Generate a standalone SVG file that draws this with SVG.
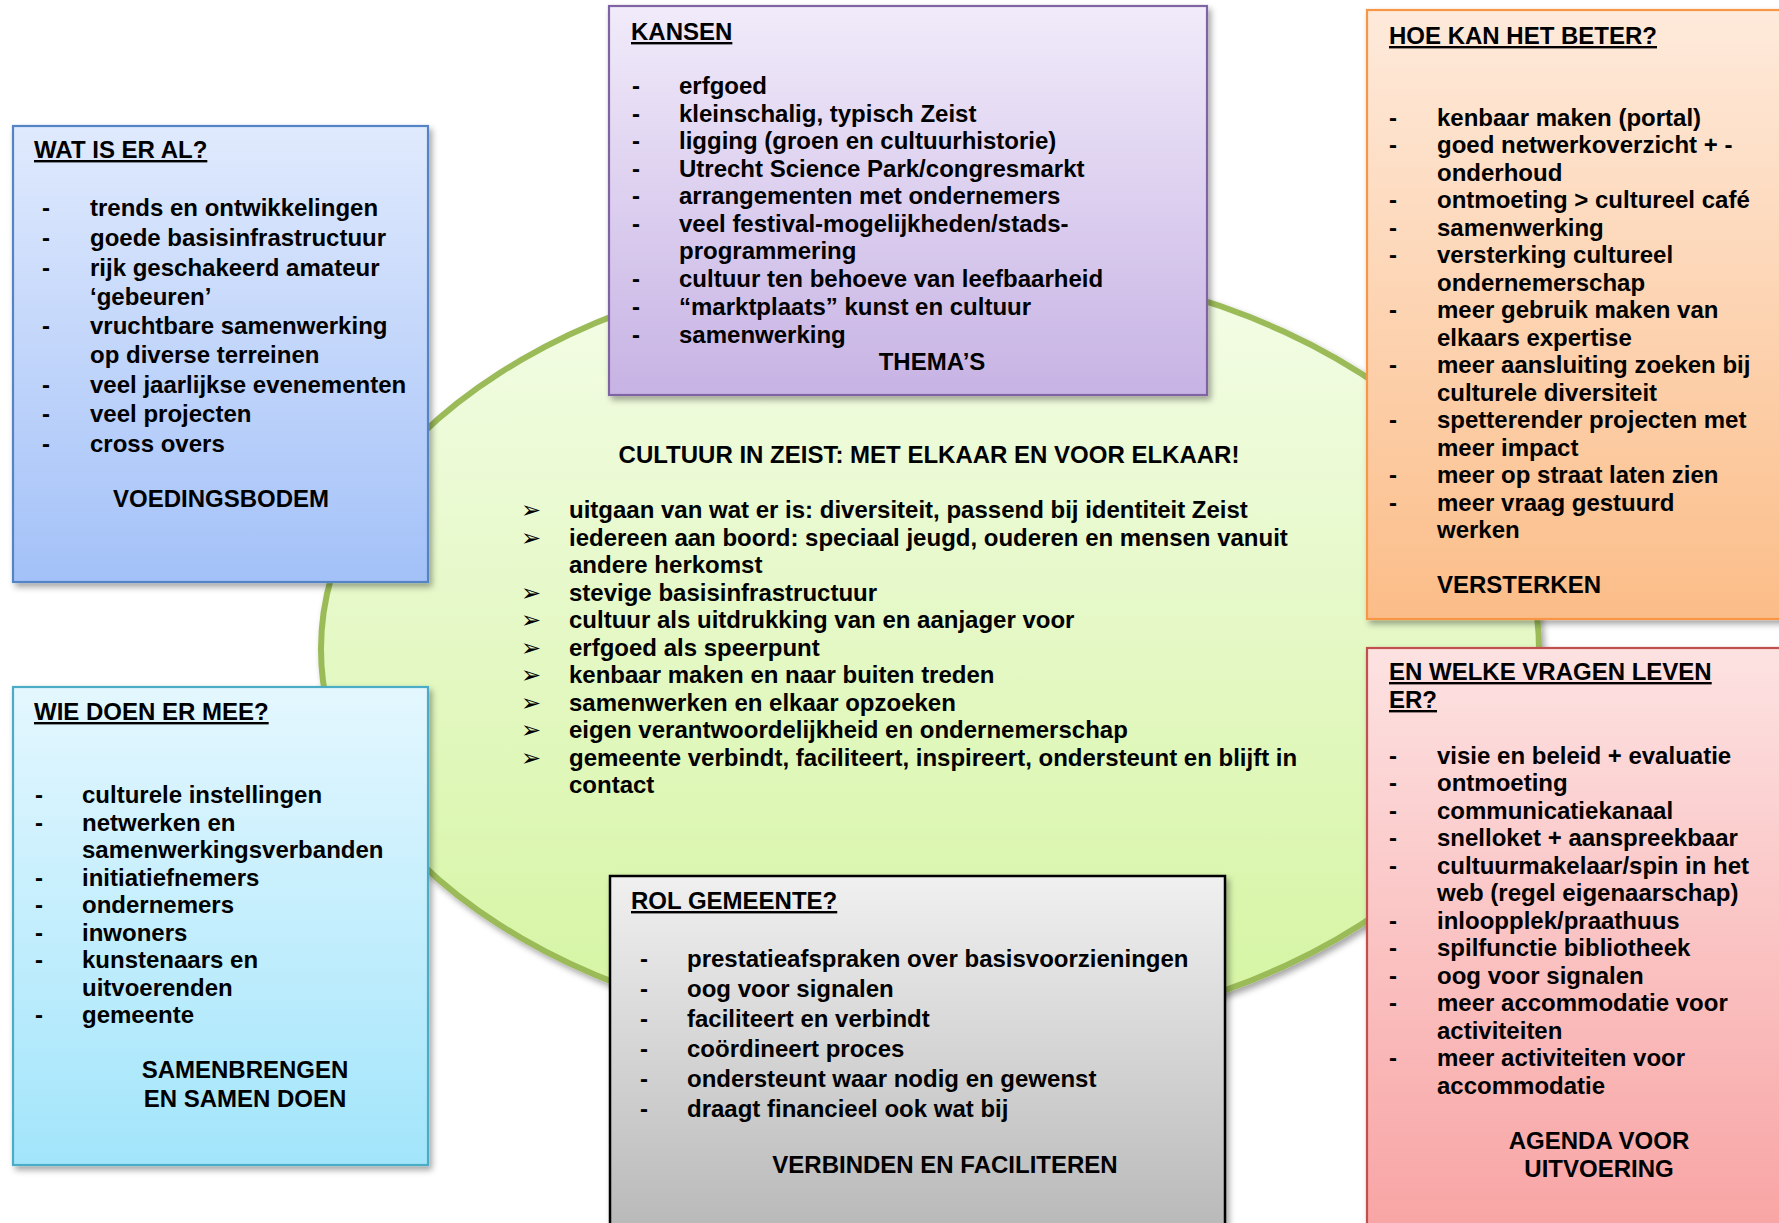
<svg xmlns="http://www.w3.org/2000/svg" width="1779" height="1223" viewBox="0 0 1779 1223">
<defs>
<style>
.t{font-family:"Liberation Sans",Arial,sans-serif;font-weight:bold;font-size:24px;fill:#000}
.h{text-decoration:underline}
.m{text-anchor:middle}
.ar{font-family:"DejaVu Sans",sans-serif;font-size:24px;font-weight:bold;fill:#000}
.box{stroke-width:2.2}
</style>
<linearGradient id="gEll" x1="0" y1="0" x2="0" y2="1"><stop offset="0" stop-color="#f4fde8"/><stop offset="0.5" stop-color="#e4f8c4"/><stop offset="1" stop-color="#d4f5a0"/></linearGradient>
<linearGradient id="gBlue" x1="0" y1="0" x2="0" y2="1"><stop offset="0" stop-color="#e0eafd"/><stop offset="1" stop-color="#a3c1f8"/></linearGradient>
<linearGradient id="gCyan" x1="0" y1="0" x2="0" y2="1"><stop offset="0" stop-color="#e4f7fe"/><stop offset="1" stop-color="#a2e5fb"/></linearGradient>
<linearGradient id="gPurple" x1="0" y1="0" x2="0" y2="1"><stop offset="0" stop-color="#f1ebfa"/><stop offset="1" stop-color="#c7b3e4"/></linearGradient>
<linearGradient id="gOrange" x1="0" y1="0" x2="0" y2="1"><stop offset="0" stop-color="#feeadb"/><stop offset="1" stop-color="#fbbd88"/></linearGradient>
<linearGradient id="gRed" x1="0" y1="0" x2="0" y2="1"><stop offset="0" stop-color="#fde2e2"/><stop offset="1" stop-color="#f8a2a2"/></linearGradient>
<linearGradient id="gGray" x1="0" y1="0" x2="0" y2="1"><stop offset="0" stop-color="#f0f0f0"/><stop offset="1" stop-color="#b6b6b6"/></linearGradient>
<filter id="sh" x="-5%" y="-5%" width="115%" height="115%"><feDropShadow dx="3" dy="4" stdDeviation="3" flood-color="#000" flood-opacity="0.35"/></filter>
</defs>
<rect width="1779" height="1223" fill="#fff"/>

<g id="centre">
<ellipse cx="930" cy="649" rx="609" ry="390" fill="url(#gEll)" stroke="#9bbb59" stroke-width="6" filter="url(#sh)"/>
<text class="t m" x="929" y="463">CULTUUR IN ZEIST: MET ELKAAR EN VOOR ELKAAR!</text>
<g class="ar">
<text x="521" y="518">➢</text><text x="521" y="546">➢</text><text x="521" y="601">➢</text><text x="521" y="628">➢</text><text x="521" y="656">➢</text><text x="521" y="683">➢</text><text x="521" y="711">➢</text><text x="521" y="738">➢</text><text x="521" y="766">➢</text>
</g>
<g class="t">
<text x="569" y="518">uitgaan van wat er is: diversiteit, passend bij identiteit Zeist</text>
<text x="569" y="546">iedereen aan boord: speciaal jeugd, ouderen en mensen vanuit</text>
<text x="569" y="573">andere herkomst</text>
<text x="569" y="601">stevige basisinfrastructuur</text>
<text x="569" y="628">cultuur als uitdrukking van en aanjager voor</text>
<text x="569" y="656">erfgoed als speerpunt</text>
<text x="569" y="683">kenbaar maken en naar buiten treden</text>
<text x="569" y="711">samenwerken en elkaar opzoeken</text>
<text x="569" y="738">eigen verantwoordelijkheid en ondernemerschap</text>
<text x="569" y="766">gemeente verbindt, faciliteert, inspireert, ondersteunt en blijft in</text>
<text x="569" y="793">contact</text>
</g>
</g>

<g id="wat-is-er-al">
<rect class="box" x="13" y="126" width="415" height="456" fill="url(#gBlue)" stroke="#5584c4" filter="url(#sh)"/>
<text class="t h" x="34" y="158">WAT IS ER AL?</text>
<g class="t">
<text x="42" y="216">-</text><text x="90" y="216">trends en ontwikkelingen</text>
<text x="42" y="246">-</text><text x="90" y="246">goede basisinfrastructuur</text>
<text x="42" y="276">-</text><text x="90" y="276">rijk geschakeerd amateur</text>
<text x="90" y="305">‘gebeuren’</text>
<text x="42" y="334">-</text><text x="90" y="334">vruchtbare samenwerking</text>
<text x="90" y="363">op diverse terreinen</text>
<text x="42" y="393">-</text><text x="90" y="393">veel jaarlijkse evenementen</text>
<text x="42" y="422">-</text><text x="90" y="422">veel projecten</text>
<text x="42" y="452">-</text><text x="90" y="452">cross overs</text>
<text class="m" x="221" y="507">VOEDINGSBODEM</text>
</g>
</g>

<g id="kansen">
<rect class="box" x="609" y="6" width="598" height="389" fill="url(#gPurple)" stroke="#8064a2" filter="url(#sh)"/>
<text class="t h" x="631" y="40">KANSEN</text>
<g class="t">
<text x="632" y="94">-</text><text x="679" y="94">erfgoed</text>
<text x="632" y="122">-</text><text x="679" y="122">kleinschalig, typisch Zeist</text>
<text x="632" y="149">-</text><text x="679" y="149">ligging (groen en cultuurhistorie)</text>
<text x="632" y="177">-</text><text x="679" y="177">Utrecht Science Park/congresmarkt</text>
<text x="632" y="204">-</text><text x="679" y="204">arrangementen met ondernemers</text>
<text x="632" y="232">-</text><text x="679" y="232">veel festival-mogelijkheden/stads-</text>
<text x="679" y="259">programmering</text>
<text x="632" y="287">-</text><text x="679" y="287">cultuur ten behoeve van leefbaarheid</text>
<text x="632" y="315">-</text><text x="679" y="315">“marktplaats” kunst en cultuur</text>
<text x="632" y="343">-</text><text x="679" y="343">samenwerking</text>
<text class="m" x="932" y="370">THEMA’S</text>
</g>
</g>

<g id="hoe-kan-het-beter">
<rect class="box" x="1367" y="10" width="430" height="609" fill="url(#gOrange)" stroke="#f79646" filter="url(#sh)"/>
<text class="t h" x="1389" y="44">HOE KAN HET BETER?</text>
<g class="t">
<text x="1389" y="126">-</text><text x="1437" y="126">kenbaar maken (portal)</text>
<text x="1389" y="153">-</text><text x="1437" y="153">goed netwerkoverzicht + -</text>
<text x="1437" y="181">onderhoud</text>
<text x="1389" y="208">-</text><text x="1437" y="208">ontmoeting &gt; cultureel café</text>
<text x="1389" y="236">-</text><text x="1437" y="236">samenwerking</text>
<text x="1389" y="263">-</text><text x="1437" y="263">versterking cultureel</text>
<text x="1437" y="291">ondernemerschap</text>
<text x="1389" y="318">-</text><text x="1437" y="318">meer gebruik maken van</text>
<text x="1437" y="346">elkaars expertise</text>
<text x="1389" y="373">-</text><text x="1437" y="373">meer aansluiting zoeken bij</text>
<text x="1437" y="401">culturele diversiteit</text>
<text x="1389" y="428">-</text><text x="1437" y="428">spetterender projecten met</text>
<text x="1437" y="456">meer impact</text>
<text x="1389" y="483">-</text><text x="1437" y="483">meer op straat laten zien</text>
<text x="1389" y="511">-</text><text x="1437" y="511">meer vraag gestuurd</text>
<text x="1437" y="538">werken</text>
<text x="1437" y="593">VERSTERKEN</text>
</g>
</g>

<g id="en-welke-vragen">
<rect class="box" x="1367" y="648" width="430" height="600" fill="url(#gRed)" stroke="#c0504d" filter="url(#sh)"/>
<text class="t h" x="1389" y="680">EN WELKE VRAGEN LEVEN</text>
<text class="t h" x="1389" y="708">ER?</text>
<g class="t">
<text x="1389" y="764">-</text><text x="1437" y="764">visie en beleid + evaluatie</text>
<text x="1389" y="791">-</text><text x="1437" y="791">ontmoeting</text>
<text x="1389" y="819">-</text><text x="1437" y="819">communicatiekanaal</text>
<text x="1389" y="846">-</text><text x="1437" y="846">snelloket + aanspreekbaar</text>
<text x="1389" y="874">-</text><text x="1437" y="874">cultuurmakelaar/spin in het</text>
<text x="1437" y="901">web (regel eigenaarschap)</text>
<text x="1389" y="929">-</text><text x="1437" y="929">inloopplek/praathuus</text>
<text x="1389" y="956">-</text><text x="1437" y="956">spilfunctie bibliotheek</text>
<text x="1389" y="984">-</text><text x="1437" y="984">oog voor signalen</text>
<text x="1389" y="1011">-</text><text x="1437" y="1011">meer accommodatie voor</text>
<text x="1437" y="1039">activiteiten</text>
<text x="1389" y="1066">-</text><text x="1437" y="1066">meer activiteiten voor</text>
<text x="1437" y="1094">accommodatie</text>
<text class="m" x="1599" y="1149">AGENDA VOOR</text>
<text class="m" x="1599" y="1177">UITVOERING</text>
</g>
</g>

<g id="wie-doen-er-mee">
<rect class="box" x="13" y="687" width="415" height="478" fill="url(#gCyan)" stroke="#4bacc6" filter="url(#sh)"/>
<text class="t h" x="34" y="720">WIE DOEN ER MEE?</text>
<g class="t">
<text x="35" y="803">-</text><text x="82" y="803">culturele instellingen</text>
<text x="35" y="831">-</text><text x="82" y="831">netwerken en</text>
<text x="82" y="858">samenwerkingsverbanden</text>
<text x="35" y="886">-</text><text x="82" y="886">initiatiefnemers</text>
<text x="35" y="913">-</text><text x="82" y="913">ondernemers</text>
<text x="35" y="941">-</text><text x="82" y="941">inwoners</text>
<text x="35" y="968">-</text><text x="82" y="968">kunstenaars en</text>
<text x="82" y="996">uitvoerenden</text>
<text x="35" y="1023">-</text><text x="82" y="1023">gemeente</text>
<text class="m" x="245" y="1078">SAMENBRENGEN</text>
<text class="m" x="245" y="1107">EN SAMEN DOEN</text>
</g>
</g>

<g id="rol-gemeente">
<rect x="610" y="876" width="615" height="372" fill="url(#gGray)" stroke="#000" stroke-width="2.5" filter="url(#sh)"/>
<text class="t h" x="631" y="909">ROL GEMEENTE?</text>
<g class="t">
<text x="640" y="967">-</text><text x="687" y="967">prestatieafspraken over basisvoorzieningen</text>
<text x="640" y="997">-</text><text x="687" y="997">oog voor signalen</text>
<text x="640" y="1027">-</text><text x="687" y="1027">faciliteert en verbindt</text>
<text x="640" y="1057">-</text><text x="687" y="1057">coördineert proces</text>
<text x="640" y="1087">-</text><text x="687" y="1087">ondersteunt waar nodig en gewenst</text>
<text x="640" y="1117">-</text><text x="687" y="1117">draagt financieel ook wat bij</text>
<text class="m" x="945" y="1173">VERBINDEN EN FACILITEREN</text>
</g>
</g>
</svg>
